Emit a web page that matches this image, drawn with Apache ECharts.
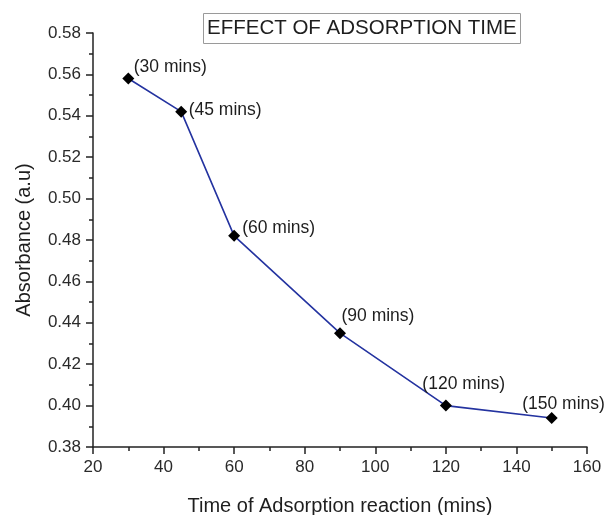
<!DOCTYPE html>
<html>
<head>
<meta charset="utf-8">
<script src="https://cdn.jsdelivr.net/npm/echarts@6/dist/echarts.min.js"></script>
<style>
  html, body { margin: 0; padding: 0; background: #fff; }
  #chart { width: 608px; height: 515px; }
</style>
</head>
<body>
<div id="chart"></div>
<script>
// Adsorption time (mins) against measured absorbance
const times = [30, 45, 60, 90, 120, 150];
const absorbance = [0.558, 0.542, 0.482, 0.435, 0.400, 0.394];
const pointLabels = ['(30 mins)', '(45 mins)', '(60 mins)', '(90 mins)', '(120 mins)', '(150 mins)'];

// Where each point's label sits relative to its marker
const labelOffsets = [
  [-5.5, -11.5],
  [-3.5, -1.5],
  [-3, -7.5],
  [-9.5, -16.5],
  [-34.5, -21.5],
  [-40.5, -13.5]
];

const FONT = '"Liberation Sans", Arial, sans-serif';

const chart = echarts.init(document.getElementById('chart'), null, { renderer: 'canvas' });

chart.setOption({
  backgroundColor: '#fff',
  animation: false,
  title: {
    text: 'EFFECT OF ADSORPTION TIME',
    left: 203,
    top: 13,
    padding: [5, 4, 5, 4],
    borderColor: '#9a9a9a',
    borderWidth: 1,
    textStyle: { fontFamily: FONT, fontSize: 20.5, fontWeight: 'normal', color: '#1e1e1e' }
  },
  grid: { left: 93, right: 21, top: 33, bottom: 68, containLabel: false, outerBoundsMode: 'none' },
  xAxis: {
    type: 'value',
    min: 20, max: 160, interval: 20,
    name: 'Time of Adsorption reaction (mins)',
    nameLocation: 'middle',
    nameGap: 49,
    nameTextStyle: { fontFamily: FONT, fontSize: 20, color: '#1e1e1e' },
    axisLine: { show: true, onZero: false, lineStyle: { color: '#222', width: 1.5 } },
    axisTick: { show: true, length: 7, lineStyle: { color: '#222', width: 1.5 } },
    minorTick: { show: true, splitNumber: 2, length: 4, lineStyle: { color: '#222', width: 1.5 } },
    axisLabel: { fontFamily: FONT, fontSize: 17, color: '#2a2a2a', margin: 12 },
    splitLine: { show: false }
  },
  yAxis: {
    type: 'value',
    min: 0.38, max: 0.58, interval: 0.02,
    name: 'Absorbance (a.u)',
    nameLocation: 'middle',
    nameGap: 59,
    nameTextStyle: { fontFamily: FONT, fontSize: 20, color: '#1e1e1e' },
    axisLine: { show: true, onZero: false, lineStyle: { color: '#222', width: 1.5 } },
    axisTick: { show: true, length: 7, lineStyle: { color: '#222', width: 1.5 } },
    minorTick: { show: true, splitNumber: 2, length: 4, lineStyle: { color: '#222', width: 1.5 } },
    axisLabel: {
      fontFamily: FONT, fontSize: 17, color: '#2a2a2a', margin: 12,
      formatter: v => v.toFixed(2)
    },
    splitLine: { show: false }
  },
  series: [{
    type: 'line',
    data: times.map((t, i) => ({
      value: [t, absorbance[i]],
      label: { formatter: pointLabels[i], offset: labelOffsets[i] }
    })),
    symbol: 'diamond',
    symbolSize: 12,
    itemStyle: { color: '#000' },
    lineStyle: { color: '#2433a0', width: 1.6 },
    label: {
      show: true,
      position: 'right',
      fontFamily: FONT,
      fontSize: 17.5,
      color: '#1e1e1e'
    }
  }]
});
</script>
</body>
</html>
